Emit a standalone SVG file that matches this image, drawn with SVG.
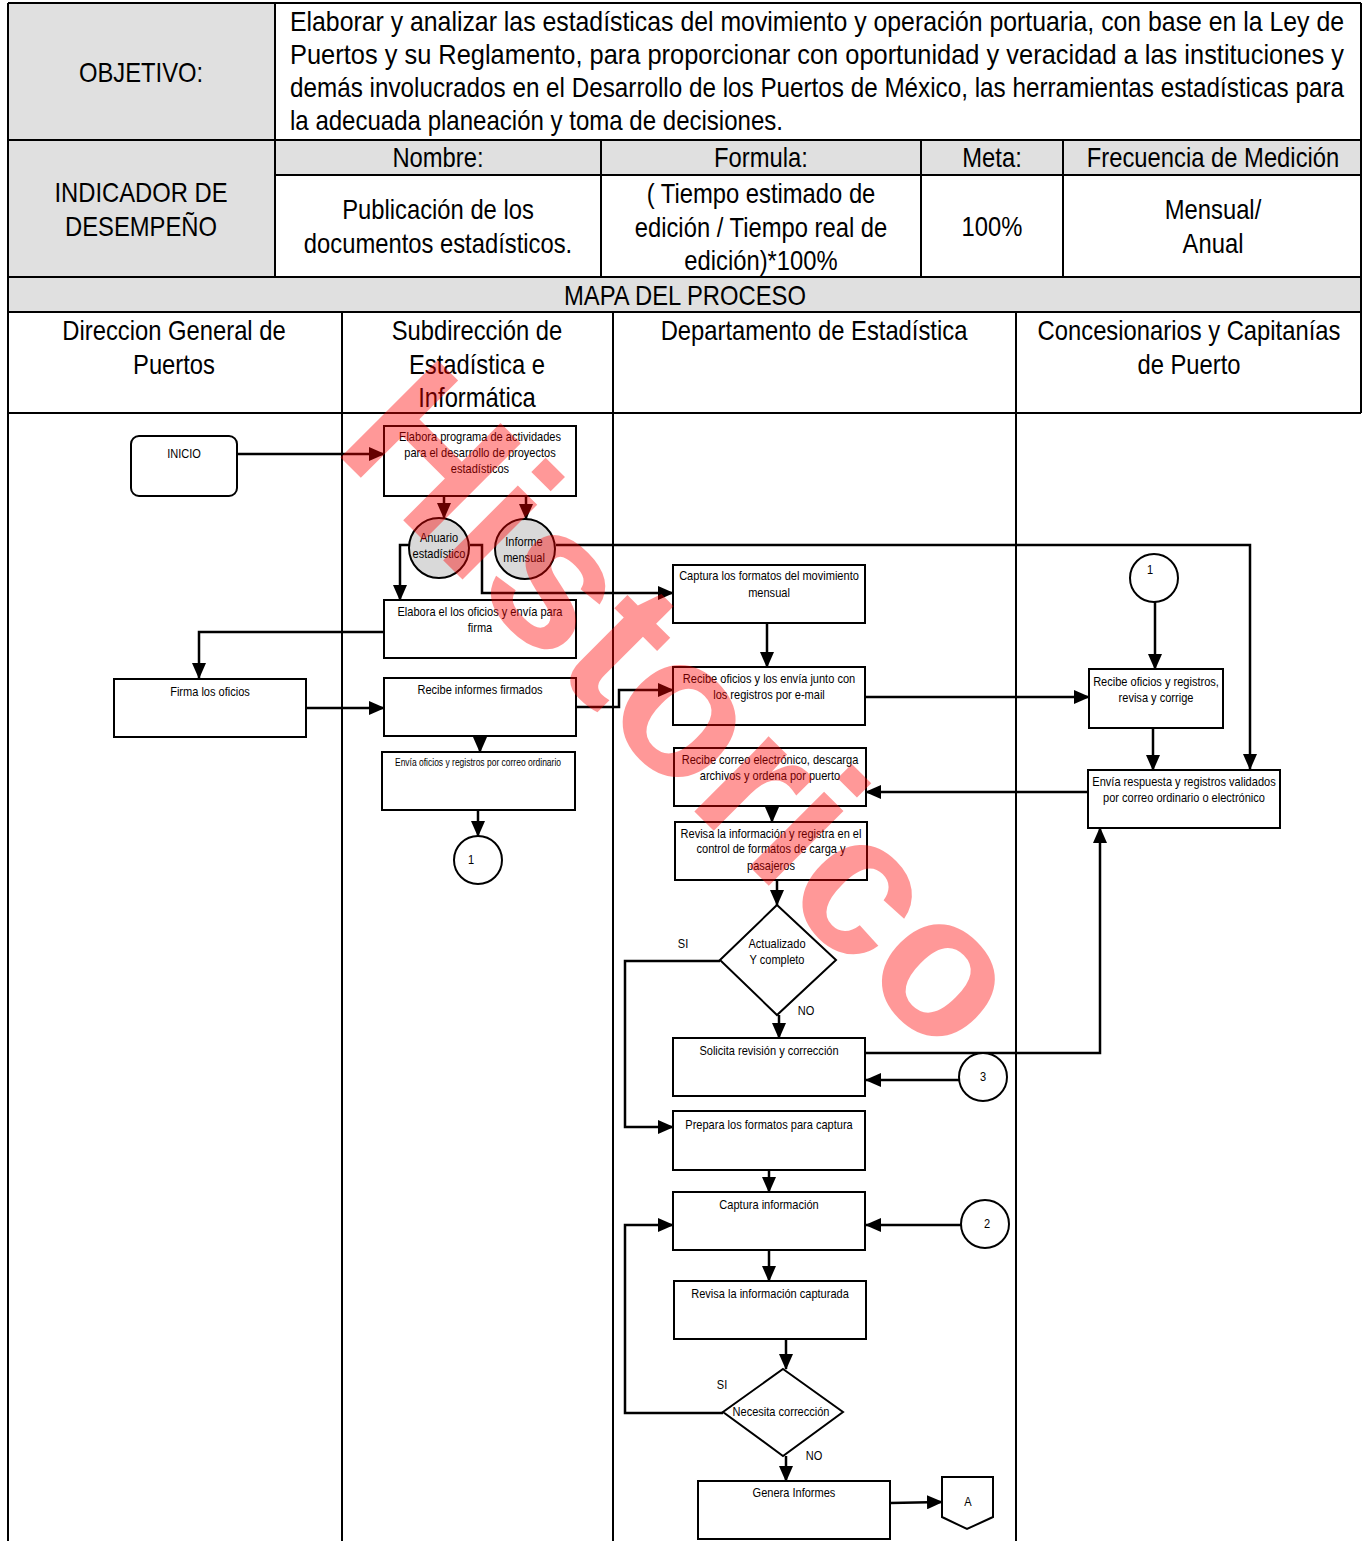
<svg xmlns="http://www.w3.org/2000/svg" width="1362" height="1541" viewBox="0 0 1362 1541">
<style>
.big{font-family:"Liberation Sans",Arial,sans-serif;font-size:28px;fill:#000;text-anchor:middle}
.par{font-family:"Liberation Sans",Arial,sans-serif;font-size:28px;fill:#000}
.t{font-family:"Liberation Sans",Arial,sans-serif;font-size:13px;fill:#000;text-anchor:middle}
.s{font-family:"Liberation Sans",Arial,sans-serif;font-size:10px;fill:#000;text-anchor:middle}
.box{fill:#fff;stroke:#000;stroke-width:2}
.gray{fill:#e0e0e0}
.ln{stroke:#000;stroke-width:2;fill:none}
.ca{stroke:#000;stroke-width:2.5;fill:none;marker-end:url(#arr)}
.wm{font-family:"Liberation Sans",Arial,sans-serif;font-weight:bold;font-size:200px;fill:#ff0000;opacity:0.4}
</style>
<defs>
<marker id="arr" markerUnits="userSpaceOnUse" markerWidth="16" markerHeight="14" refX="15" refY="7" orient="auto">
<path d="M0,0 L16,7 L0,14 z" fill="#000"/>
</marker>
</defs>
<rect x="0" y="0" width="1362" height="1541" fill="#fff"/>

<g id="header">
<rect class="gray" x="8" y="3" width="267" height="137"/>
<rect class="gray" x="8" y="140" width="267" height="137"/>
<rect class="gray" x="275" y="140" width="1086" height="35"/>
<rect class="gray" x="8" y="277" width="1353" height="35"/>
<path class="ln" d="M8,3 H1361 M8,140 H1361 M275,175 H1361 M8,277 H1361 M8,312 H1361 M8,413 H1361 M8,3 V1541 M275,3 V277 M601,140 V277 M921,140 V277 M1063,140 V277 M1361,3 V413 M342,312 V1541 M613,312 V1541 M1016,312 V1541"/>
<text class="big" transform="translate(141,82) scale(.85,1)">OBJETIVO:</text>
<text class="par" transform="translate(290,31) scale(.85,1)" textLength="1240" lengthAdjust="spacingAndGlyphs">Elaborar y analizar las estadísticas del movimiento y operación portuaria, con base en la Ley de</text>
<text class="par" transform="translate(290,64) scale(.85,1)" textLength="1240" lengthAdjust="spacingAndGlyphs">Puertos y su Reglamento, para proporcionar con oportunidad y veracidad a las instituciones y</text>
<text class="par" transform="translate(290,97) scale(.85,1)" textLength="1240" lengthAdjust="spacingAndGlyphs">demás involucrados en el Desarrollo de los Puertos de México, las herramientas estadísticas para</text>
<text class="par" transform="translate(290,130) scale(.85,1)" textLength="580" lengthAdjust="spacingAndGlyphs">la adecuada planeación y toma de decisiones.</text>
<text class="big" transform="translate(141,202) scale(.85,1)">INDICADOR DE</text>
<text class="big" transform="translate(141,236) scale(.85,1)">DESEMPEÑO</text>
<text class="big" transform="translate(438,167) scale(.85,1)">Nombre:</text>
<text class="big" transform="translate(761,167) scale(.85,1)">Formula:</text>
<text class="big" transform="translate(992,167) scale(.85,1)">Meta:</text>
<text class="big" transform="translate(1213,167) scale(.85,1)">Frecuencia de Medición</text>
<text class="big" transform="translate(438,219) scale(.85,1)">Publicación de los</text>
<text class="big" transform="translate(438,253) scale(.85,1)">documentos estadísticos.</text>
<text class="big" transform="translate(761,203) scale(.85,1)">( Tiempo estimado de</text>
<text class="big" transform="translate(761,237) scale(.85,1)">edición / Tiempo real de</text>
<text class="big" transform="translate(761,270) scale(.85,1)">edición)*100%</text>
<text class="big" transform="translate(992,236) scale(.85,1)">100%</text>
<text class="big" transform="translate(1213,219) scale(.85,1)">Mensual/</text>
<text class="big" transform="translate(1213,253) scale(.85,1)">Anual</text>
<text class="big" transform="translate(685,305) scale(.85,1)">MAPA DEL PROCESO</text>
<text class="big" transform="translate(174,340) scale(.85,1)">Direccion General de</text>
<text class="big" transform="translate(174,374) scale(.85,1)">Puertos</text>
<text class="big" transform="translate(477,340) scale(.85,1)">Subdirección de</text>
<text class="big" transform="translate(477,374) scale(.85,1)">Estadística e</text>
<text class="big" transform="translate(477,407) scale(.85,1)">Informática</text>
<text class="big" transform="translate(814,340) scale(.85,1)">Departamento de Estadística</text>
<text class="big" transform="translate(1189,340) scale(.85,1)">Concesionarios y Capitanías</text>
<text class="big" transform="translate(1189,374) scale(.85,1)">de Puerto</text>
</g>

<g id="connectors">
<path class="ca" d="M237,454 H384"/>
<path class="ca" d="M444,496 V518"/>
<path class="ca" d="M526,496 V519"/>
<path class="ca" d="M412,545 H400 V600"/>
<path class="ca" d="M470,545 H482 V593 H673"/>
<path class="ca" d="M556,545 H1250 V769"/>
<path class="ca" d="M384,632 H199 V678"/>
<path class="ca" d="M306,708 H384"/>
<path class="ca" d="M576,707 H619 V690 H673"/>
<path class="ca" d="M480,736 V752"/>
<path class="ca" d="M478,810 V836"/>
<path class="ca" d="M767,623 V667"/>
<path class="ca" d="M865,697 H1089"/>
<path class="ca" d="M1155,602 V669"/>
<path class="ca" d="M1153,728 V770"/>
<path class="ca" d="M1088,792 H866"/>
<path class="ca" d="M772,806 V822"/>
<path class="ca" d="M777,880 V905"/>
<path class="ca" d="M720,961 H625 V1127 H673"/>
<path class="ca" d="M779,1015 V1038"/>
<path class="ca" d="M863,1053 H1100 V828"/>
<path class="ca" d="M959,1080 H866"/>
<path class="ca" d="M769,1170 V1192"/>
<path class="ca" d="M961,1225 H866"/>
<path class="ca" d="M769,1250 V1281"/>
<path class="ca" d="M786,1339 V1369"/>
<path class="ca" d="M723,1413 H625 V1225 H673"/>
<path class="ca" d="M786,1456 V1481"/>
<path class="ca" d="M890,1503 L942,1502"/>
</g>

<g id="n-inicio"><rect class="box" x="131" y="436" width="106" height="60" rx="8"/><text class="t" transform="translate(184,458) scale(.85,1)">INICIO</text></g>
<g id="n-firma"><rect class="box" x="114" y="679" width="192" height="58"/><text class="t" transform="translate(210,696) scale(.85,1)">Firma los oficios</text></g>

<g id="n-programa"><rect class="box" x="384" y="426" width="192" height="70"/>
<text class="t" transform="translate(480,441) scale(.85,1)">Elabora programa de actividades</text>
<text class="t" transform="translate(480,457) scale(.85,1)">para el desarrollo de proyectos</text>
<text class="t" transform="translate(480,473) scale(.85,1)">estadísticos</text></g>
<g id="n-anuario"><circle cx="439" cy="548" r="30" fill="#d9d9d9" stroke="#000" stroke-width="2"/>
<text class="t" transform="translate(439,542) scale(.85,1)">Anuario</text>
<text class="t" transform="translate(439,558) scale(.85,1)">estadístico</text></g>
<g id="n-informe"><circle cx="525" cy="549" r="30" fill="#d9d9d9" stroke="#000" stroke-width="2"/>
<text class="t" transform="translate(524,546) scale(.85,1)">Informe</text>
<text class="t" transform="translate(524,562) scale(.85,1)">mensual</text></g>
<g id="n-elabora-oficios"><rect class="box" x="384" y="600" width="192" height="58"/>
<text class="t" transform="translate(480,616) scale(.85,1)">Elabora el los oficios y envía para</text>
<text class="t" transform="translate(480,632) scale(.85,1)">firma</text></g>
<g id="n-recibe-firmados"><rect class="box" x="384" y="678" width="192" height="58"/>
<text class="t" transform="translate(480,694) scale(.85,1)">Recibe informes firmados</text></g>
<g id="n-envia-oficios"><rect class="box" x="382" y="752" width="193" height="58"/>
<text class="s" transform="translate(478,766) scale(.85,1)">Envía oficios y registros por correo ordinario</text></g>
<g id="n-c1a"><circle cx="478" cy="860" r="24" class="box"/><text class="t" transform="translate(471,864) scale(.85,1)">1</text></g>

<g id="n-captura-formatos"><rect class="box" x="673" y="565" width="192" height="58"/>
<text class="t" transform="translate(769,580) scale(.85,1)">Captura los formatos del movimiento</text>
<text class="t" transform="translate(769,597) scale(.85,1)">mensual</text></g>
<g id="n-recibe-oficios"><rect class="box" x="673" y="667" width="192" height="58"/>
<text class="t" transform="translate(769,683) scale(.85,1)">Recibe oficios y los envía junto con</text>
<text class="t" transform="translate(769,699) scale(.85,1)">los registros por e-mail</text></g>
<g id="n-recibe-correo"><rect class="box" x="674" y="748" width="192" height="58"/>
<text class="t" transform="translate(770,764) scale(.85,1)">Recibe correo electrónico, descarga</text>
<text class="t" transform="translate(770,780) scale(.85,1)">archivos y ordena por puerto</text></g>
<g id="n-revisa-registra"><rect class="box" x="675" y="822" width="192" height="58"/>
<text class="t" transform="translate(771,838) scale(.85,1)">Revisa la información y registra en el</text>
<text class="t" transform="translate(771,853) scale(.85,1)">control de formatos de carga y</text>
<text class="t" transform="translate(771,870) scale(.85,1)">pasajeros</text></g>
<g id="n-actualizado"><polygon class="box" points="777,905 836,960 777,1015 720,960"/>
<text class="t" transform="translate(777,948) scale(.85,1)">Actualizado</text>
<text class="t" transform="translate(777,964) scale(.85,1)">Y completo</text>
<text class="t" transform="translate(683,948) scale(.85,1)">SI</text>
<text class="t" transform="translate(806,1015) scale(.85,1)">NO</text></g>
<g id="n-solicita"><rect class="box" x="673" y="1038" width="192" height="58"/>
<text class="t" transform="translate(769,1055) scale(.85,1)">Solicita revisión y corrección</text></g>
<g id="n-c3"><circle cx="983" cy="1077" r="24" class="box"/><text class="t" transform="translate(983,1081) scale(.85,1)">3</text></g>
<g id="n-prepara"><rect class="box" x="673" y="1111" width="192" height="59"/>
<text class="t" transform="translate(769,1129) scale(.85,1)">Prepara los formatos para captura</text></g>
<g id="n-captura-info"><rect class="box" x="673" y="1192" width="192" height="58"/>
<text class="t" transform="translate(769,1209) scale(.85,1)">Captura información</text></g>
<g id="n-c2"><circle cx="985" cy="1224" r="24" class="box"/><text class="t" transform="translate(987,1228) scale(.85,1)">2</text></g>
<g id="n-revisa-capturada"><rect class="box" x="674" y="1281" width="192" height="58"/>
<text class="t" transform="translate(770,1298) scale(.85,1)">Revisa la información capturada</text></g>
<g id="n-necesita"><polygon class="box" points="783,1369 843,1412 783,1456 723,1412"/>
<text class="t" transform="translate(781,1416) scale(.85,1)">Necesita corrección</text>
<text class="t" transform="translate(722,1389) scale(.85,1)">SI</text>
<text class="t" transform="translate(814,1460) scale(.85,1)">NO</text></g>
<g id="n-genera"><rect class="box" x="698" y="1481" width="192" height="58"/>
<text class="t" transform="translate(794,1497) scale(.85,1)">Genera Informes</text></g>
<g id="n-a"><polygon class="box" points="942,1477 993,1477 993,1517 967,1529 942,1517"/>
<text class="t" transform="translate(968,1506) scale(.85,1)">A</text></g>

<g id="n-c1b"><circle cx="1154" cy="578" r="24" class="box"/><text class="t" transform="translate(1150,574) scale(.85,1)">1</text></g>
<g id="n-recibe-registros"><rect class="box" x="1089" y="669" width="134" height="59"/>
<text class="t" transform="translate(1156,686) scale(.85,1)">Recibe oficios y registros,</text>
<text class="t" transform="translate(1156,702) scale(.85,1)">revisa y corrige</text></g>
<g id="n-envia-respuesta"><rect class="box" x="1088" y="770" width="192" height="58"/>
<text class="t" transform="translate(1184,786) scale(.85,1)">Envía respuesta y registros validados</text>
<text class="t" transform="translate(1184,802) scale(.85,1)">por  correo ordinario o electrónico</text></g>

<g id="watermark"><text class="wm" transform="translate(331,448) rotate(45)">Historico</text></g>
</svg>
